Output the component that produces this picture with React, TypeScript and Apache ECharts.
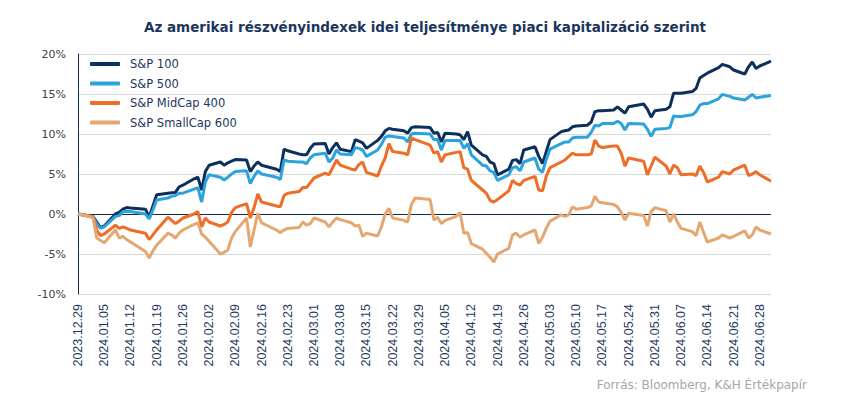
import React, { useEffect, useRef } from "react";
import * as echarts from "echarts";

const titleText = "Az amerikai részvényindexek idei teljesítménye piaci kapitalizáció szerint";
const sourceText = "Forrás: Bloomberg, K&H Értékpapír";
const seriesNames = ["S&P 100", "S&P 500", "S&P MidCap 400", "S&P SmallCap 600"];
const seriesColors = ["#0d2f5c", "#2ba3dc", "#ee6e27", "#e5a771"];

const dates = [
  "2023.12.29",
  "2024.01.02","2024.01.03","2024.01.04","2024.01.05","2024.01.08","2024.01.09","2024.01.10","2024.01.11","2024.01.12","2024.01.16","2024.01.17","2024.01.18","2024.01.19","2024.01.22","2024.01.23","2024.01.24","2024.01.25","2024.01.26","2024.01.29","2024.01.30","2024.01.31",
  "2024.02.01","2024.02.02","2024.02.05","2024.02.06","2024.02.07","2024.02.08","2024.02.09","2024.02.12","2024.02.13","2024.02.14","2024.02.15","2024.02.16","2024.02.20","2024.02.21","2024.02.22","2024.02.23","2024.02.26","2024.02.27","2024.02.28","2024.02.29",
  "2024.03.01","2024.03.04","2024.03.05","2024.03.06","2024.03.07","2024.03.08","2024.03.11","2024.03.12","2024.03.13","2024.03.14","2024.03.15","2024.03.18","2024.03.19","2024.03.20","2024.03.21","2024.03.22","2024.03.25","2024.03.26","2024.03.27","2024.03.28",
  "2024.04.01","2024.04.02","2024.04.03","2024.04.04","2024.04.05","2024.04.08","2024.04.09","2024.04.10","2024.04.11","2024.04.12","2024.04.15","2024.04.16","2024.04.17","2024.04.18","2024.04.19","2024.04.22","2024.04.23","2024.04.24","2024.04.25","2024.04.26","2024.04.29","2024.04.30",
  "2024.05.01","2024.05.02","2024.05.03","2024.05.06","2024.05.07","2024.05.08","2024.05.09","2024.05.10","2024.05.13","2024.05.14","2024.05.15","2024.05.16","2024.05.17","2024.05.20","2024.05.21","2024.05.22","2024.05.23","2024.05.24","2024.05.28","2024.05.29","2024.05.30","2024.05.31",
  "2024.06.03","2024.06.04","2024.06.05","2024.06.06","2024.06.07","2024.06.10","2024.06.11","2024.06.12","2024.06.13","2024.06.14","2024.06.17","2024.06.18","2024.06.20","2024.06.21","2024.06.24","2024.06.25","2024.06.26","2024.06.27","2024.06.28",
  "2024.07.01",
];

const sp100 = [
  0,
  -0.3, -1.0, -1.7, -1.5, 0.0, 0.2, 0.6, 0.8, 0.75, 0.6, -0.4, 1.0, 2.4, 2.6, 2.65, 2.7, 3.4, 3.6, 4.4, 4.6, 3.0,
  5.3, 6.1, 6.5, 6.1, 6.4, 6.6, 6.8, 6.75, 5.3, 6.0, 6.5, 6.1, 5.6, 5.3, 8.1, 7.9, 7.5, 7.4, 7.4, 8.2,
  8.75, 8.8, 7.5, 8.3, 8.9, 8.1, 7.8, 9.3, 9.1, 8.9, 8.2, 9.2, 9.7, 10.4, 10.7, 10.6, 10.4, 10.1, 10.8, 10.9,
  10.8, 10.1, 10.2, 9.0, 10.1, 10.0, 9.9, 9.3, 10.3, 8.6, 7.4, 7.2, 6.5, 6.3, 4.9, 5.6, 6.7, 6.8, 6.3, 8.0, 8.4, 7.2,
  6.3, 7.8, 9.3, 10.3, 10.4, 10.5, 10.9, 11.0, 11.1, 11.5, 12.8, 12.9, 12.9, 13.0, 13.4, 13.0, 12.6, 13.4, 13.75, 13.1, 12.1, 12.9,
  13.1, 13.4, 15.1, 15.1, 15.1, 15.3, 15.7, 17.0, 17.3, 17.6, 18.3, 18.7, 18.4, 18.0, 17.5, 18.4, 19.0, 18.2, 18.5,
  19.1,
];

const sp500 = [
  0,
  -0.4, -1.2, -1.8, -1.6, -0.3, -0.2, 0.3, 0.3, 0.3, 0.0, -0.6, 0.5, 1.75, 2.0, 2.2, 2.3, 2.6, 2.6, 3.1, 3.3, 1.5,
  4.0, 4.9, 4.6, 4.25, 4.6, 5.0, 5.3, 5.4, 3.8, 4.7, 5.4, 5.0, 4.6, 4.3, 6.75, 6.6, 6.5, 6.5, 6.3, 7.0,
  7.4, 7.6, 6.5, 7.0, 8.0, 7.5, 7.4, 8.3, 8.2, 8.0, 7.2, 8.0, 8.7, 9.6, 9.75, 9.7, 9.5, 9.0, 10.0, 10.1,
  10.0, 9.3, 9.3, 8.0, 9.2, 9.2, 9.2, 8.2, 8.8, 7.4, 6.1, 6.0, 5.4, 5.2, 4.2, 4.9, 5.8, 5.9, 5.4, 6.5, 7.0, 5.6,
  5.2, 6.8, 8.1, 8.8, 9.0, 9.0, 9.5, 9.6, 9.6, 10.2, 11.1, 11.0, 11.3, 11.3, 11.6, 11.3, 10.5, 11.3, 11.25, 10.6, 9.7, 10.6,
  10.7, 10.8, 12.25, 12.2, 12.2, 12.4, 12.8, 13.6, 13.8, 13.8, 14.4, 14.95, 14.7, 14.5, 14.25, 14.6, 14.95, 14.5, 14.6,
  14.8,
];

const midCap400 = [
  0,
  -0.3, -2.0, -2.7, -2.5, -1.4, -1.8, -1.6, -1.8, -2.0, -2.4, -3.2, -2.6, -2.0, -0.4, -0.8, -1.2, -0.9, -0.5, 0.0, 0.3, -1.6,
  -0.5, -1.0, -1.5, -1.3, -1.0, 0.2, 0.8, 1.3, -0.5, 0.8, 2.5, 1.5, 1.0, 0.9, 2.3, 2.6, 2.8, 3.3, 3.3, 3.9,
  4.5, 5.1, 4.9, 5.8, 6.75, 6.1, 5.6, 5.5, 6.2, 6.5, 5.2, 4.75, 6.0, 7.0, 8.8, 7.8, 7.6, 7.4, 9.5, 9.3,
  8.6, 7.6, 7.8, 6.5, 7.4, 7.7, 7.8, 5.8, 5.6, 4.2, 3.0, 2.6, 1.7, 1.5, 1.8, 2.9, 4.2, 3.8, 3.6, 4.2, 4.7, 3.0,
  2.9, 4.7, 5.8, 6.5, 6.75, 7.2, 7.6, 7.4, 7.4, 7.5, 9.25, 8.5, 8.3, 8.5, 8.5, 7.6, 6.0, 7.0, 6.6, 4.9, 6.0, 7.1,
  6.0, 5.0, 6.1, 5.8, 4.9, 5.0, 4.8, 6.0, 5.2, 4.0, 4.6, 5.3, 5.0, 5.5, 6.1, 4.8, 5.0, 5.3, 4.9,
  4.1,
];

const smallCap600 = [
  0,
  -0.4, -3.0, -3.3, -3.6, -2.0, -3.0, -2.8, -3.2, -3.5, -4.7, -5.5, -4.6, -3.9, -2.4, -2.6, -3.0, -2.4, -2.0, -1.3, -1.1, -2.5,
  -2.9, -3.4, -5.0, -4.8, -4.5, -3.0, -2.2, -0.5, -4.1, -2.0, 0.1, -1.1, -2.0, -2.3, -2.0, -1.8, -1.7, -1.0, -1.4, -1.2,
  -0.5, -1.0, -1.6, -1.0, -0.5, -0.7, -1.1, -1.5, -1.4, -2.8, -2.4, -2.75, -1.6, 0.0, 0.7, -0.5, -0.8, -1.0, 1.2, 2.0,
  1.8, -0.75, -0.4, -1.2, -0.8, -0.3, 0.2, -2.4, -2.3, -3.7, -4.4, -4.9, -5.4, -6.0, -5.0, -4.3, -2.6, -2.4, -2.9, -2.6, -2.0, -3.7,
  -2.9, -1.8, -0.9, -0.1, -0.3, -0.1, 0.9, 0.6, 0.8, 1.0, 2.2, 1.5, 1.4, 1.2, 0.9, 0.2, -0.75, 0.1, -0.2, -1.5, 0.3, 0.8,
  0.4, -1.0, 0.0, -1.0, -1.8, -2.2, -2.7, -1.0, -2.3, -3.5, -3.0, -2.6, -3.0, -2.8, -2.1, -3.0, -2.6, -1.6, -2.0,
  -2.5,
];

const yTicks = [-10, -5, 0, 5, 10, 15, 20];

const DAY = 86400000;
const parseDate = (s: string) => {
  const [y, m, d] = s.split(".").map(Number);
  return Date.UTC(y, m - 1, d);
};
const baseTime = parseDate(dates[0]);
const dayOf = (s: string) => Math.round((parseDate(s) - baseTime) / DAY);
const pad = (n: number) => (n < 10 ? "0" + n : "" + n);
const formatDay = (v: number) => {
  const t = new Date(baseTime + v * DAY);
  return `${t.getUTCFullYear()}.${pad(t.getUTCMonth() + 1)}.${pad(t.getUTCDate())}`;
};

export default function App() {
  const ref = useRef<HTMLDivElement>(null);
  useEffect(() => {
    document.body.style.margin = "0";
    if (!ref.current) return;
    const chart = echarts.init(ref.current, null, { renderer: "svg" });
    const allValues = [sp100, sp500, midCap400, smallCap600];
    const lastDay = dayOf(dates[dates.length - 1]);
    const gridColor = "#d9d9d9";
    const zeroColor = "#13294b";
    chart.setOption({
      animation: false,
      backgroundColor: "#ffffff",
      title: {
        text: titleText,
        left: "center",
        top: 15,
        textStyle: {
          fontFamily: "DejaVu Sans",
          fontSize: 13.5,
          fontWeight: "bold",
          color: "#1b365d",
        },
      },
      legend: {
        orient: "vertical",
        left: 85,
        top: 52,
        itemWidth: 30,
        itemHeight: 4,
        itemGap: 5.5,
        icon: "roundRect",
        data: seriesNames,
        textStyle: {
          fontFamily: "DejaVu Sans",
          fontSize: 11.5,
          color: "#1b365d",
          lineHeight: 14,
          padding: [0, 0, 0, 5],
        },
      },
      grid: { left: 78, right: 79, top: 54, bottom: 104, containLabel: false },
      xAxis: {
        type: "value",
        min: 0,
        max: lastDay,
        interval: 7,
        axisLine: { show: false },
        axisTick: { show: false },
        splitLine: { show: false },
        axisLabel: {
          rotate: 90,
          margin: 10,
          showMaxLabel: false,
          fontFamily: "Liberation Sans",
          fontSize: 12.5,
          color: "#1f3a5f",
          formatter: (v: number) => formatDay(v),
        },
      },
      yAxis: {
        type: "value",
        min: yTicks[0],
        max: yTicks[yTicks.length - 1],
        interval: 5,
        axisLine: { show: true, lineStyle: { color: zeroColor, width: 1 } },
        axisTick: { show: false },
        splitLine: {
          show: true,
          lineStyle: {
            color: yTicks.map((t) => (t === 0 ? zeroColor : gridColor)),
            width: 1,
          },
        },
        axisLabel: {
          margin: 12,
          fontFamily: "DejaVu Sans",
          fontSize: 11,
          color: "#404040",
          formatter: (v: number) => `${v}%`,
        },
      },
      series: seriesNames.map((name, i) => ({
        name,
        type: "line",
        symbol: "none",
        data: dates.map((d, j) => [dayOf(d), allValues[i][j]]),
        lineStyle: { width: 3, color: seriesColors[i] },
        itemStyle: { color: seriesColors[i] },
      })),
      graphic: [
        {
          type: "text",
          right: 43,
          top: 379,
          style: {
            text: sourceText,
            fontFamily: "DejaVu Sans",
            fontSize: 12,
            fill: "#a6a6a6",
          },
        },
      ],
    });
    return () => chart.dispose();
  }, []);
  return <div ref={ref} style={{ width: 850, height: 398 }} />;
}
